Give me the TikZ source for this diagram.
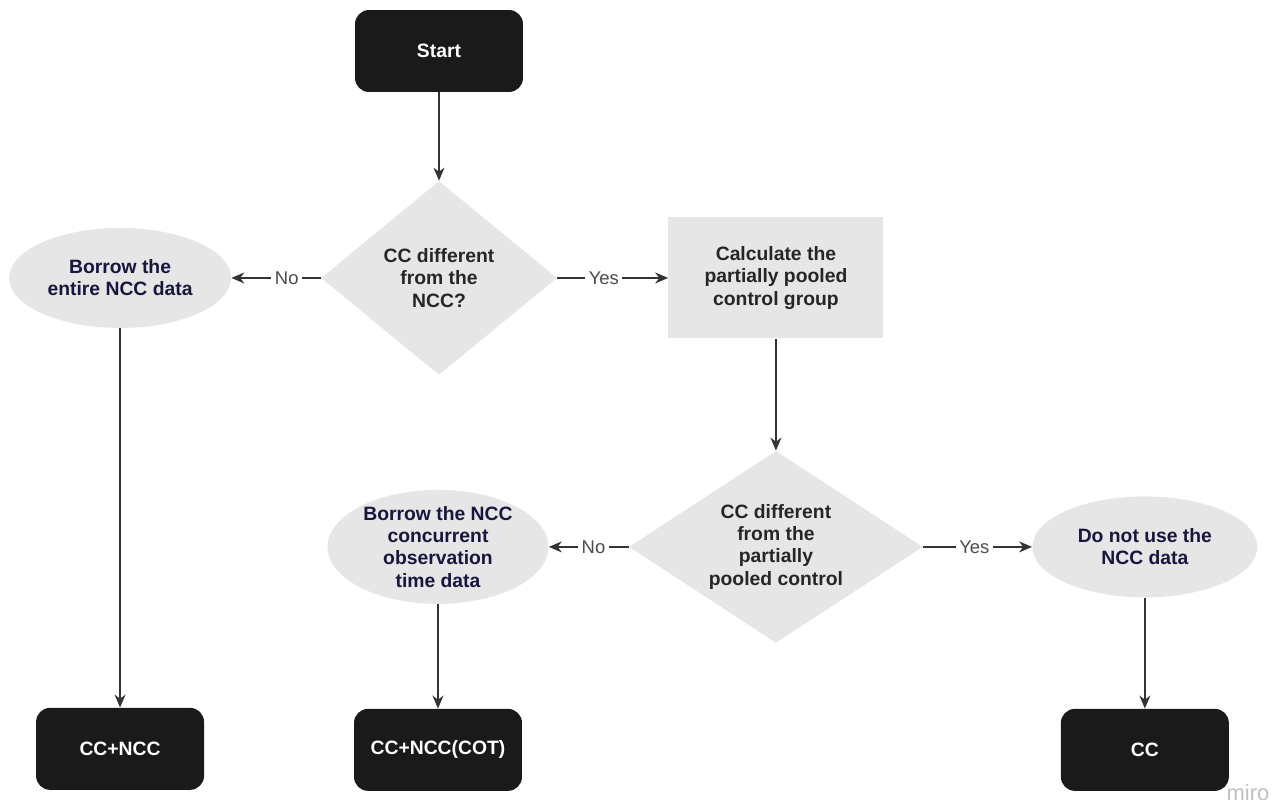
\documentclass[tikz,border=0pt]{standalone}
\usepackage{fontspec}
\setmainfont{Liberation Sans}
\usepackage{tikz}
\usetikzlibrary{arrows,arrows.meta,shapes.geometric}

\definecolor{boxgray}{HTML}{E6E6E6}
\definecolor{boxblack}{HTML}{1A1A1A}
\definecolor{navy}{HTML}{16163F}
\definecolor{linegray}{HTML}{333333}

\begin{document}
\begin{tikzpicture}[x=0.02cm, y=-0.02cm, >={Stealth[length=2.6mm,width=2.2mm]}, font=\fontsize{11}{12.6}\selectfont\bfseries,
  term/.style = {fill=boxblack, text=white, rounded corners=2.8mm, minimum width=3.36cm, minimum height=1.64cm},
  ask/.style = {diamond, fill=boxgray, text=black!85, align=center, inner sep=0pt},
  act/.style = {ellipse, fill=boxgray, text=navy, align=center, inner sep=0pt},
  calc/.style = {fill=boxgray, text=black!85, align=center, minimum width=4.3cm, minimum height=2.42cm},
  lbl/.style = {fill=white, font=\fontsize{10.5}{12}\selectfont, text=black!70, inner sep=2pt},
  flow/.style = {->, draw=linegray, line width=0.8pt}]
\useasboundingbox (0,0) rectangle (1278,811);

\node[term] (start) at (439,51) {Start};
\node[ask, aspect=1.22, minimum width=4.72cm, minimum height=3.88cm] (q1) [node distance=4.54cm, below of=start] {CC different\\from the\\NCC?};
\node[act, minimum width=4.44cm, minimum height=2cm] (borrowall) [node distance=6.38cm, left of=q1] {Borrow the\\entire NCC data};
\node[calc] (pooled) [node distance=6.74cm, right of=q1] {Calculate the\\partially pooled\\control group};
\node[ask, aspect=1.53, minimum width=5.88cm, minimum height=3.84cm] (q2) [node distance=5.38cm, below of=pooled] {CC different\\from the\\partially\\pooled control};
\node[act, minimum width=4.42cm, minimum height=2.12cm] (borrowcot) [node distance=6.76cm, left of=q2] {Borrow the NCC\\concurrent\\observation\\time data};
\node[act, minimum width=4.5cm, minimum height=2.02cm] (nouse) [node distance=7.38cm, right of=q2] {Do not use the\\NCC data};
\node[term] (ccncc) [node distance=9.42cm, below of=borrowall] {CC+NCC};
\node[term] (cccot) [node distance=4.06cm, below of=borrowcot] {CC+NCC(COT)};
\node[term] (cconly) [node distance=4.06cm, below of=nouse] {CC};
\node[text=black!25, font=\fontsize{12.5}{14}\selectfont] (wm) at (1248,793) {miro};

\draw[flow] (start) -- (q1);
\draw[flow] (q1.west) -- node[lbl, pos=0.38] {No} (borrowall.east);
\draw[flow] (q1.east) -- node[lbl, pos=0.42] {Yes} (pooled.west);
\draw[flow] (pooled) -- (q2);
\draw[flow] (q2.west) -- node[lbl, pos=0.44] {No} (borrowcot.east);
\draw[flow] (q2.east) -- node[lbl, pos=0.47] {Yes} (nouse.west);
\draw[flow] (borrowall) -- (ccncc);
\draw[flow] (borrowcot) -- (cccot);
\draw[flow] (nouse) -- (cconly);
\end{tikzpicture}
\end{document}
